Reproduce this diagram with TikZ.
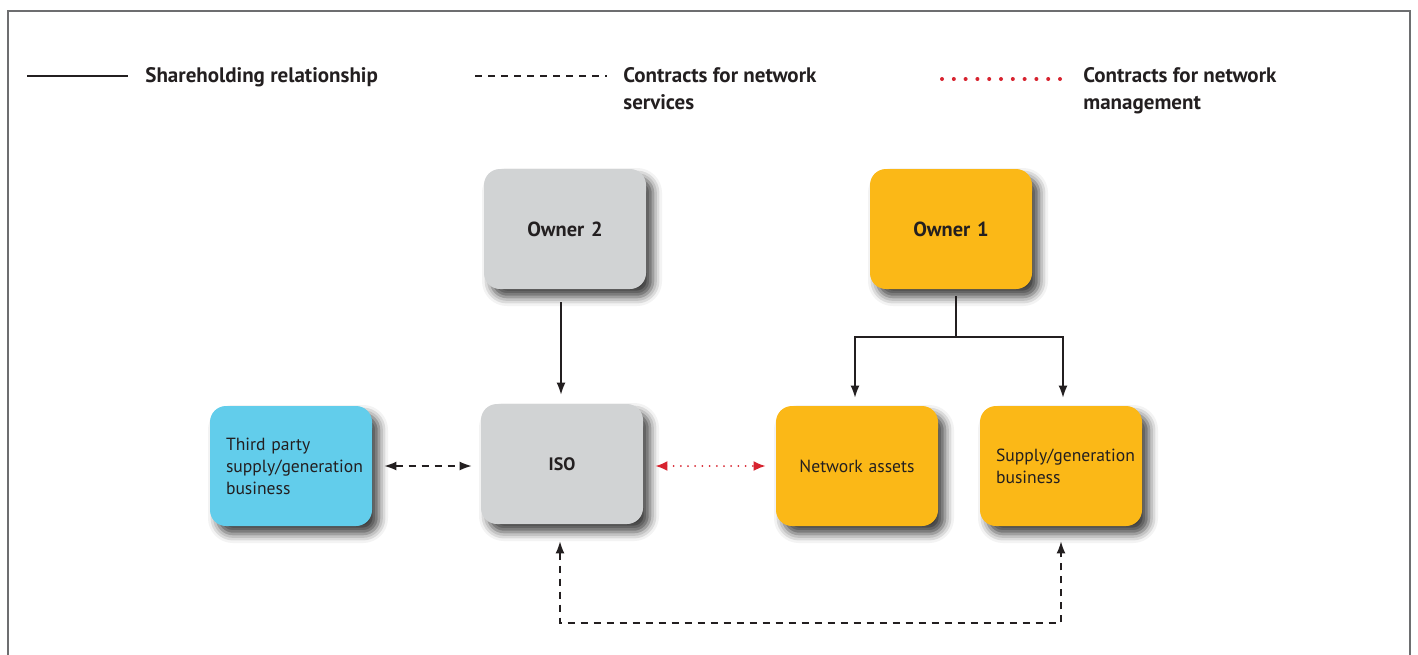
\documentclass[tikz,border=0pt]{standalone}
\usepackage{fontspec}
\setmainfont{PT Sans}
\usepackage{tikz}
\usetikzlibrary{arrows.meta,positioning,shadows.blur}
\definecolor{isogrey}{HTML}{D1D3D4}
\definecolor{ownerorange}{HTML}{FBB817}
\definecolor{thirdblue}{HTML}{62CDEB}
\definecolor{contractred}{HTML}{D7232F}
\definecolor{framegrey}{HTML}{6D6E70}
\definecolor{inkdark}{HTML}{231F20}
\tikzstyle{box} = [rectangle, rounded corners=8pt, minimum width=81pt, minimum height=60pt,
    text width=65pt, inner sep=8pt, align=center, text=inkdark, font=\fontsize{8.8}{11}\selectfont,
    blur shadow={shadow xshift=3.5pt, shadow yshift=-4pt, shadow blur radius=4.5pt, shadow opacity=75}]
\tikzstyle{legendtext} = [inner sep=0pt, align=left, text=inkdark, font=\bfseries\fontsize{10.5}{13.5}\selectfont]
\tikzstyle{arrow} = [-{Latex[length=6pt,width=4.5pt]}, line width=0.7pt, inkdark]
\tikzstyle{dasharrow} = [{Latex[length=6pt,width=4.5pt]}-{Latex[length=6pt,width=4.5pt]}, line width=0.7pt,
    inkdark, dash pattern=on 3.5pt off 3pt]
\tikzstyle{dotarrow} = [{Latex[length=6pt,width=5pt]}-{Latex[length=6pt,width=5pt]}, contractred,
    line width=1pt, line cap=round, dash pattern=on 0pt off 3.6pt]

\begin{document}
\begin{tikzpicture}[x=0.5pt, y=-0.5pt]
\useasboundingbox (0,0) rectangle (1418,654);
\draw[framegrey, line width=1pt] (8,670) -- (8,11) -- (1410,11) -- (1410,670);

% key
\draw[inkdark, line width=0.8pt] (27,76) -- (128,76);
\node[legendtext, anchor=north west] (keyshare) at (145,67) {Shareholding relationship};
\draw[inkdark, line width=0.8pt, dash pattern=on 3.5pt off 3pt] (475,76) -- (607,76);
\node[legendtext, anchor=north west] (keyservice) at (623,67) {Contracts for network\\services};
\draw[contractred, line width=2pt, line cap=round, dash pattern=on 0pt off 5.9pt] (942,79) -- (1066,79);
\node[legendtext, anchor=north west] (keymanage) at (1083,67) {Contracts for network\\management};

% owners
\node[box, fill=isogrey, font=\bfseries\fontsize{10.2}{13}\selectfont] (owner2) at (565,229) {Owner 2};
\node[box, fill=ownerorange, font=\bfseries\fontsize{10.2}{13}\selectfont] (owner1) at (951,229) {Owner 1};

% businesses
\node[box, fill=thirdblue, align=left] (third) at (291,466) {Third party\\supply/generation\\business};
\node[box, fill=isogrey, font=\bfseries\fontsize{9}{11}\selectfont] (iso) at (562,464) {ISO};
\node[box, fill=ownerorange] (netassets) at (857,466) {Network assets};
\node[box, fill=ownerorange, align=left] (supply) at (1061,466) {Supply/generation\\business};

\coordinate (split) at (956,337);
\coordinate (loop) at (560,623);

\draw[arrow, shorten <=6.5pt, shorten >=4.5pt] (owner2.south -| 561,0) -- (iso.north -| 561,0);
\draw[inkdark, line width=0.7pt, shorten <=3.5pt] (owner1.south -| split) -- (split);
\draw[arrow, shorten >=4pt] (split) -| (netassets.north -| 855,0);
\draw[arrow, shorten >=4pt] (split) -| (supply.north -| 1063,0);
\draw[dasharrow, shorten <=6pt, shorten >=4.5pt] (third.east) -- (third.east -| iso.west);
\draw[dotarrow, shorten <=6pt, shorten >=5pt] (iso.east |- netassets.west) -- (netassets.west);
\draw[dasharrow, shorten <=8.5pt, shorten >=7.5pt] (iso.south -| loop) -- (loop)
    -- (supply.south |- loop) -- (supply.south);
\end{tikzpicture}
\end{document}
